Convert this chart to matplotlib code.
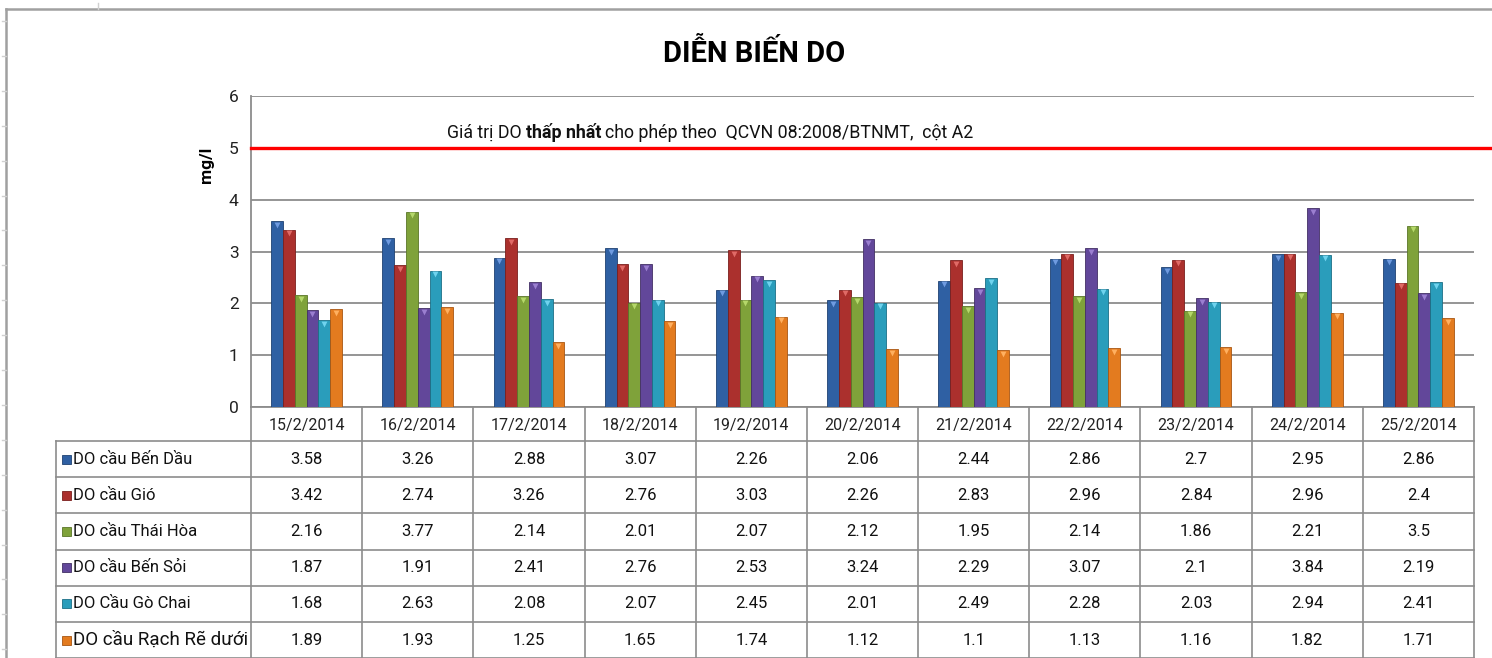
import numpy as np
import matplotlib
matplotlib.use("Agg")
import matplotlib.pyplot as plt

plt.rcParams['font.family'] = ['Roboto', 'DejaVu Sans']

# ---- data (mg/l) ----
dates = ['15/2/2014', '16/2/2014', '17/2/2014', '18/2/2014', '19/2/2014', '20/2/2014',
         '21/2/2014', '22/2/2014', '23/2/2014', '24/2/2014', '25/2/2014']
stations = ['DO cầu Bến Dầu', 'DO cầu Gió', 'DO cầu Thái Hòa', 'DO cầu Bến Sỏi',
            'DO Cầu Gò Chai', 'DO cầu Rạch Rẽ dưới']
ben_dau = [3.58, 3.26, 2.88, 3.07, 2.26, 2.06, 2.44, 2.86, 2.7, 2.95, 2.86]
gio = [3.42, 2.74, 3.26, 2.76, 3.03, 2.26, 2.83, 2.96, 2.84, 2.96, 2.4]
thai_hoa = [2.16, 3.77, 2.14, 2.01, 2.07, 2.12, 1.95, 2.14, 1.86, 2.21, 3.5]
ben_soi = [1.87, 1.91, 2.41, 2.76, 2.53, 3.24, 2.29, 3.07, 2.1, 3.84, 2.19]
go_chai = [1.68, 2.63, 2.08, 2.07, 2.45, 2.01, 2.49, 2.28, 2.03, 2.94, 2.41]
rach_re = [1.89, 1.93, 1.25, 1.65, 1.74, 1.12, 1.1, 1.13, 1.16, 1.82, 1.71]
series = [ben_dau, gio, thai_hoa, ben_soi, go_chai, rach_re]
limit_do = 5  # QCVN 08:2008/BTNMT, cot A2

colours = ['#2f60a3', '#ab302d', '#7fa23a', '#62479a', '#2a9dbb', '#e37b1f']
edges = ['#1f4272', '#7a1f1d', '#5a7628', '#433065', '#1c6f86', '#a85612']
tops = ['#6f9be0', '#e06a66', '#b5d86a', '#9b7fd0', '#6fd3ee', '#ffb060']

W, H = 1492, 658
fig = plt.figure(figsize=(W / 100, H / 100), dpi=100)


def px(x0, y0, x1, y1):
    return [x0 / W, 1 - y1 / H, (x1 - x0) / W, (y1 - y0) / H]


# overlay in pixel coords for table / frame
bg = fig.add_axes([0, 0, 1, 1], zorder=0)
bg.set_xlim(0, W)
bg.set_ylim(H, 0)
bg.axis('off')

ax = fig.add_axes(px(251, 96, 1474, 407), zorder=1)
ax.set_facecolor('none')

x = np.arange(len(dates))
w = 0.106
for i, vals in enumerate(series):
    off = (i - 2.5) * w
    ax.bar(x + off, vals, width=w, color=colours[i], edgecolor=edges[i],
           linewidth=0.6, zorder=3)
    ax.scatter(x + off, np.array(vals) - 0.07, marker='v', s=18,
               color=tops[i], linewidths=0, zorder=4)

ax.set_xlim(-0.5, len(dates) - 0.5)
ax.set_ylim(0, 6)
ax.set_yticks(range(0, 7))
ax.yaxis.grid(True, color='#8c8c8c', linewidth=1.3, zorder=0)
ax.set_axisbelow(True)
for s in ['top', 'right']:
    ax.spines[s].set_visible(False)
ax.spines['left'].set_color('#8c8c8c')
ax.spines['bottom'].set_color('#8c8c8c')
ax.spines['left'].set_linewidth(1.3)
ax.spines['bottom'].set_linewidth(1.3)
ax.tick_params(axis='y', length=0, pad=9, labelsize=12.5, labelcolor='#222222')
ax.set_xticks(x, dates)
ax.tick_params(axis='x', length=0, pad=8, labelsize=11.5, labelcolor='#222222')

ax.set_ylabel('mg/l', fontsize=12.5, fontweight='bold', labelpad=14)
ax.yaxis.set_label_coords(-0.03, 0.78)

# red limit line extends past the plot area
ax.axhline(limit_do, xmin=0, xmax=(W - 251) / (1474 - 251), color='#ff0000',
           linewidth=2.4, clip_on=False, zorder=5)

fig.text(754 / W, 1 - 53 / H, 'DIỄN BIẾN DO', ha='center', va='center',
         fontsize=21, fontweight='bold', color='black')

# annotation with a bold piece
fig.canvas.draw()
rend = fig.canvas.get_renderer()
xpos = 447
for txt, wt in [('Giá trị DO', 'normal'), ('thấp nhất', 'bold'),
                ('cho phép theo  QCVN 08:2008/BTNMT,  cột A2', 'normal')]:
    t = bg.text(xpos, 133, txt, fontsize=12.8, fontweight=wt, va='center',
                ha='left', color='#111111')
    xpos += t.get_window_extent(rend).width + 4

# ---- data table ----
line_c = '#8c8c8c'
row_top = 441
row_h = 36.2
x_right = ax.transData.transform((len(dates) - 0.5, 0))[0]
bounds = [ax.transData.transform((b - 0.5, 0))[0] for b in range(len(dates) + 1)]

for b in bounds:
    bg.plot([b, b], [407, row_top + row_h * len(stations)], color=line_c, lw=1.2)
bg.plot([56, 56], [row_top, row_top + row_h * len(stations)], color=line_c, lw=1.2)
for r in range(len(stations) + 1):
    yy = row_top + r * row_h
    bg.plot([56, x_right], [yy, yy], color=line_c, lw=1.2)

for r, (name, vals) in enumerate(zip(stations, series)):
    yc = row_top + (r + 0.5) * row_h
    bg.add_patch(plt.Rectangle((62, yc - 4.5), 9, 9, facecolor=colours[r],
                               edgecolor=edges[r], lw=0.6))
    fs = 13.5 if r == len(stations) - 1 else 12
    bg.text(73, yc, name, fontsize=fs, va='center', ha='left', color='#111111')
    for c, v in enumerate(vals):
        xc = ax.transData.transform((c, 0))[0]
        bg.text(xc, yc, f'{v:g}', fontsize=12, va='center', ha='center',
                color='#111111')

# spreadsheet frame
frame_c = '#a0a0a0'
bg.plot([6, 6], [9, H], color=frame_c, lw=1.8)
bg.plot([6, W], [9, 9], color=frame_c, lw=1.8)
for yy in np.arange(21, H, 34.9):
    bg.plot([2, 6], [yy, yy], color='#d0d0d0', lw=1)
bg.plot([98, 98], [3, 9], color='#d0d0d0', lw=1)

fig.savefig('out.png', dpi=100)
